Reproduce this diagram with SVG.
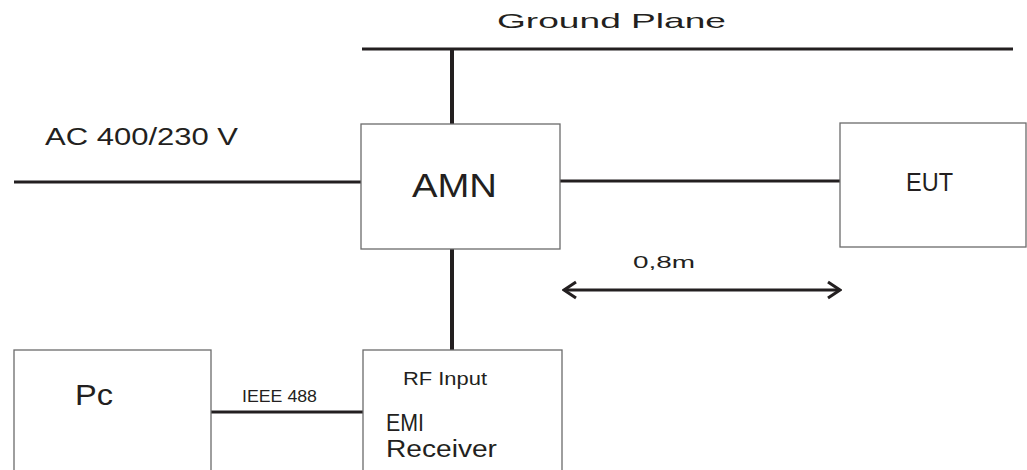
<svg xmlns="http://www.w3.org/2000/svg" width="1027" height="470" viewBox="0 0 1027 470">
<defs>
<style>
.box{fill:#fff;stroke:#6b6b6b;stroke-width:1.3}
.wire{stroke:#231f20;stroke-width:3;fill:none}
.wv{stroke:#231f20;stroke-width:4;fill:none}
text{font-family:"Liberation Sans","DejaVu Sans",sans-serif;fill:#231f20}
</style>
<marker id="chev" viewBox="0 0 16 20" refX="14" refY="10" markerWidth="16" markerHeight="20" markerUnits="userSpaceOnUse" orient="auto-start-reverse">
<path d="M2,2 L14,10 L2,18" fill="none" stroke="#231f20" stroke-width="3"/>
</marker>
</defs>
<rect width="1027" height="470" fill="#fff"/>
<g id="connectors">
<line class="wire" x1="362" y1="49" x2="1013" y2="49"/>
<line class="wv" x1="452" y1="49" x2="452" y2="124"/>
<line class="wire" x1="14" y1="182" x2="361" y2="182"/>
<line class="wire" x1="560" y1="181" x2="840" y2="181"/>
<line class="wv" x1="452" y1="249" x2="452" y2="350"/>
<line class="wire" x1="211" y1="412" x2="363" y2="412"/>
<line class="wire" x1="564" y1="290" x2="840" y2="290" marker-start="url(#chev)" marker-end="url(#chev)"/>
</g>
<g id="labels">
<text x="497" y="28" font-size="21" textLength="229" lengthAdjust="spacingAndGlyphs">Ground Plane</text>
<text x="45" y="145" font-size="23" textLength="193" lengthAdjust="spacingAndGlyphs">AC 400/230 V</text>
<text x="633" y="268" font-size="17" textLength="62" lengthAdjust="spacingAndGlyphs">0,8m</text>
<text x="242" y="402" font-size="16" textLength="75" lengthAdjust="spacingAndGlyphs">IEEE 488</text>
</g>
<g id="amn">
<rect class="box" x="361" y="124" width="199" height="125"/>
<text x="412" y="197" font-size="34" textLength="85" lengthAdjust="spacingAndGlyphs">AMN</text>
</g>
<g id="eut">
<rect class="box" x="840" y="123" width="186" height="124"/>
<text x="906" y="191" font-size="26" textLength="47" lengthAdjust="spacingAndGlyphs">EUT</text>
</g>
<g id="pc">
<rect class="box" x="14" y="350" width="197" height="130"/>
<text x="75" y="405" font-size="30" textLength="38" lengthAdjust="spacingAndGlyphs">Pc</text>
</g>
<g id="receiver">
<rect class="box" x="363" y="350" width="199" height="130"/>
<text x="403" y="385" font-size="18" textLength="84" lengthAdjust="spacingAndGlyphs">RF Input</text>
<text x="386" y="431" font-size="23" textLength="38" lengthAdjust="spacingAndGlyphs">EMI</text>
<text x="386" y="457" font-size="23" textLength="111" lengthAdjust="spacingAndGlyphs">Receiver</text>
</g>
</svg>
